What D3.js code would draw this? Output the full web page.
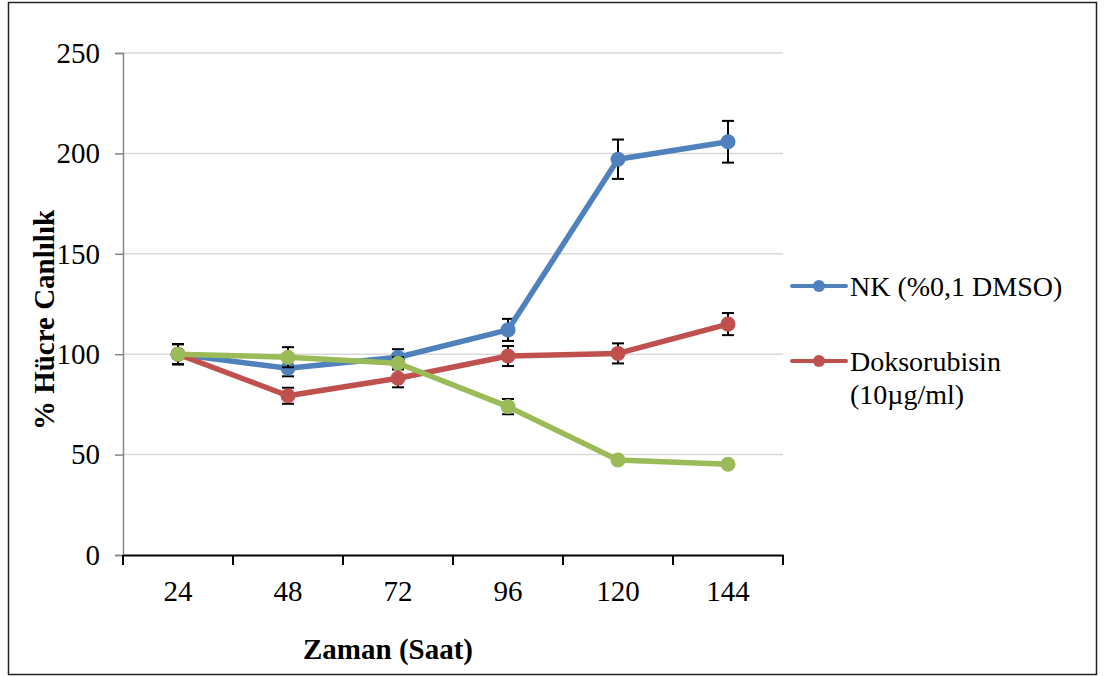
<!DOCTYPE html>
<html><head><meta charset="utf-8">
<script src="https://cdn.jsdelivr.net/npm/d3@7"></script>
<style>body{margin:0;background:#fff}svg{display:block}text{font-family:"Liberation Serif","Times New Roman",serif}</style>
</head><body><svg id="c" width="1105" height="677"></svg>
<script>
const categories = ["24","48","72","96","120","144"];
const yTicks = [0,50,100,150,200,250];
const nkValues = [100, 93.0, 98.5, 112.1, 197.1, 205.8];
const nkErrors = [5, 4, 4, 5.5, 9.8, 10.4];
const doxValues = [100, 79.3, 88.0, 99.1, 100.4, 115.0];
const doxErrors = [5, 4, 4.5, 5, 5, 5.5];
const greenValues = [100, 98.5, 95.5, 73.9, 47.3, 45.2];
const greenErrors = [5, 5, 3, 3.8, 1, 1];
const colors = ["#4F81BD", "#C0504D", "#9BBB59"];

const svg = d3.select("#c");
svg.append("rect").attr("x",8.5).attr("y",2.5).attr("width",1088).attr("height",672)
  .attr("fill","#fff").attr("stroke","#222").attr("stroke-width",1.5);

const x = d3.scaleBand().domain(categories).range([123,783]);
const y = d3.scaleLinear().domain([0,250]).range([555,53]);

// gridlines
svg.append("g").selectAll("line").data(yTicks.filter(d=>d>0)).join("line")
  .attr("x1",123).attr("x2",783).attr("y1",d=>y(d)).attr("y2",d=>y(d))
  .attr("stroke","#d9d9d9").attr("stroke-width",1.5);

// y axis
const ya = svg.append("g").attr("transform","translate(123,0)")
  .call(d3.axisLeft(y).tickValues(yTicks).tickSize(8).tickPadding(15));
ya.select(".domain").attr("stroke","#868686").attr("stroke-width",1.5);
ya.selectAll(".tick line").attr("stroke","#868686").attr("stroke-width",1.5);
ya.selectAll(".tick text").attr("font-size",29).attr("fill","#000");

// x axis
const xa = svg.append("g").attr("transform","translate(0,555)")
  .call(d3.axisBottom(x).tickSize(0).tickPadding(25));
xa.select(".domain").attr("stroke","#000").attr("stroke-width",2);
xa.selectAll(".tick text").attr("font-size",29).attr("fill","#000");
// boundary ticks
const bounds = categories.map(c=>x(c)).concat([x(categories[categories.length-1])+x.bandwidth()]);
xa.append("g").selectAll("line").data(bounds).join("line")
  .attr("x1",d=>d).attr("x2",d=>d).attr("y1",0).attr("y2",10)
  .attr("stroke","#000").attr("stroke-width",2);

// titles
svg.append("text").attr("x",388).attr("y",659).attr("text-anchor","middle")
  .attr("font-size",29).attr("font-weight","bold").text("Zaman (Saat)");
svg.append("text").attr("transform","translate(54,320) rotate(-90)").attr("text-anchor","middle")
  .attr("font-size",29).attr("font-weight","bold").text("% Hücre Canlılık");

// series
const series = [
  {vals:nkValues, errs:nkErrors, color:colors[0]},
  {vals:doxValues, errs:doxErrors, color:colors[1]},
  {vals:greenValues, errs:greenErrors, color:colors[2]}
];
const cx = i => x(categories[i]) + x.bandwidth()/2;
const line = d3.line().x((d,i)=>cx(i)).y(d=>y(d));
series.forEach(s=>{
  const g = svg.append("g");
  const eb = g.append("g").attr("stroke","#000").attr("stroke-width",2);
  s.vals.forEach((v,i)=>{
    const e = s.errs[i];
    eb.append("line").attr("x1",cx(i)).attr("x2",cx(i)).attr("y1",y(v+e)).attr("y2",y(v-e));
    eb.append("line").attr("x1",cx(i)-6).attr("x2",cx(i)+6).attr("y1",y(v+e)).attr("y2",y(v+e));
    eb.append("line").attr("x1",cx(i)-6).attr("x2",cx(i)+6).attr("y1",y(v-e)).attr("y2",y(v-e));
  });
  g.append("path").datum(s.vals).attr("d",line).attr("fill","none")
    .attr("stroke",s.color).attr("stroke-width",5.5).attr("stroke-linejoin","round");
  g.selectAll("circle").data(s.vals).join("circle")
    .attr("cx",(d,i)=>cx(i)).attr("cy",d=>y(d)).attr("r",7.5).attr("fill",s.color);
});

// legend
const leg = [
  {y:286, color:colors[0], lines:["NK (%0,1 DMSO)"]},
  {y:361, color:colors[1], lines:["Doksorubisin","(10µg/ml)"]}
];
leg.forEach(l=>{
  svg.append("line").attr("x1",792).attr("x2",846).attr("y1",l.y).attr("y2",l.y)
    .attr("stroke",l.color).attr("stroke-width",4).attr("stroke-linecap","round");
  svg.append("circle").attr("cx",819).attr("cy",l.y).attr("r",6).attr("fill",l.color);
  const t = svg.append("text").attr("x",850).attr("y",l.y+10).attr("font-size",28);
  l.lines.forEach((s,k)=>t.append("tspan").attr("x",850).attr("dy",k?33:0).text(s));
});
</script></body></html>
